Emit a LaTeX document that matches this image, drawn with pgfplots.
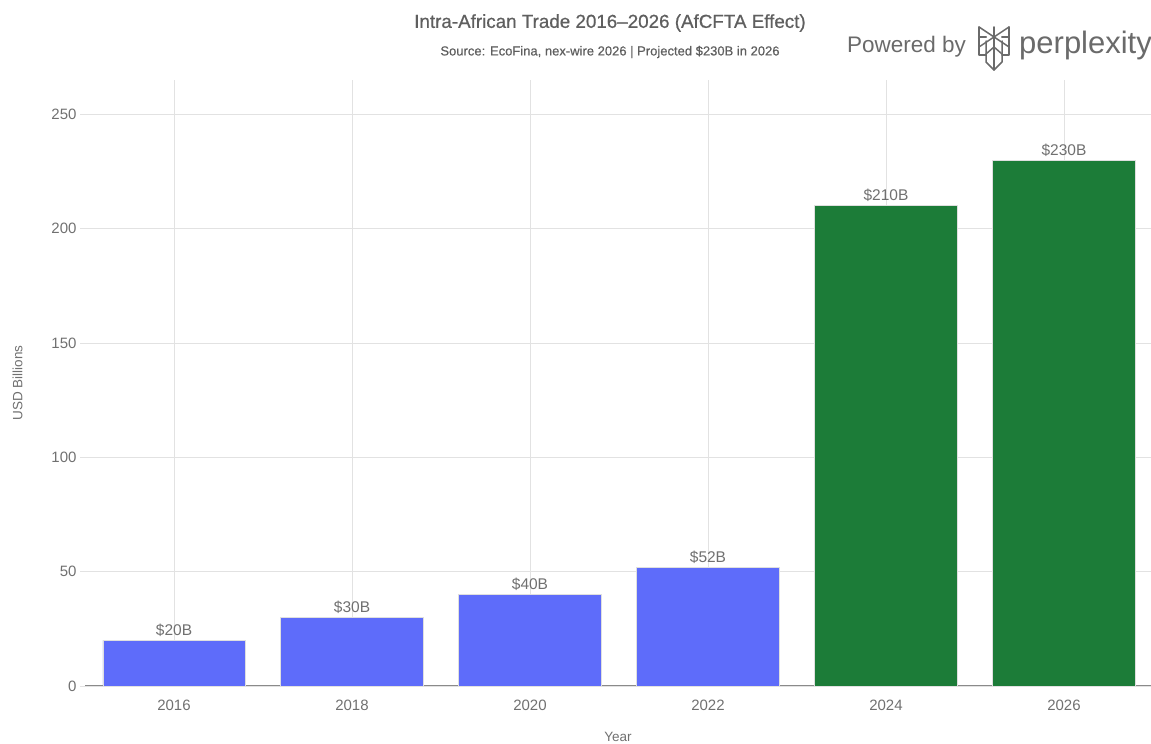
\documentclass[border=0pt]{standalone}
\usepackage{fontspec}
\setmainfont{Liberation Sans}
\newfontfamily\titlefont{Liberation Sans}[FakeBold=0.6,Ligatures=TeX]
\usepackage{pgfplots}
\pgfplotsset{compat=1.18}

\definecolor{barblue}{HTML}{5E6CFA}
\definecolor{bargreen}{HTML}{1C7C38}
\definecolor{txtgray}{HTML}{707070}
\definecolor{titlegray}{HTML}{5F5F5F}
\definecolor{gridgray}{HTML}{E2E2E2}
\definecolor{axisgray}{HTML}{8A8A8A}
\definecolor{logogray}{HTML}{6A6A6A}

\begin{document}
\begin{tikzpicture}
\useasboundingbox (0pt,0pt) rectangle (1151pt,744pt);

% Titles
\node[text=titlegray,font=\titlefont\fontsize{18.8}{21}\selectfont] at (610pt,721pt) {Intra-African Trade 2016\textendash 2026 (AfCFTA Effect)};
\node[text=titlegray,font=\titlefont\fontsize{13}{15}\selectfont] at (610pt,692pt) {Source: EcoFina, nex-wire 2026 | Projected \$230B in 2026};

% Logo
\node[anchor=west,text=logogray,inner sep=0,font=\fontsize{22.5}{24}\selectfont] at (847pt,697pt) {Powered by};
\node[anchor=west,text=logogray,inner sep=0,font=\fontsize{31}{32}\selectfont] at (1019pt,699pt) {perplexity};
\begin{scope}[x=1pt,y=1pt,draw=logogray,line width=1.5pt,line cap=round,line join=round]
  \draw (994,717) -- (994,674);
  \draw (979,717) -- (1009,697);
  \draw (1009,717) -- (979,697);
  \draw (979,717) -- (979,707) -- (986,707);
  \draw (1009,717) -- (1009,707) -- (1002,707);
  \draw (986,707) -- (979,707) -- (979,689) -- (986,689);
  \draw (1002,707) -- (1009,707) -- (1009,689) -- (1002,689);
  \draw (986,703) -- (986,682) -- (994,674) -- (1002,682) -- (1002,703);
  \draw (986,690) -- (994,697) -- (1002,690);
\end{scope}

\begin{axis}[
  at={(174pt,58pt)}, anchor=origin,
  scale only axis, width=1066pt, height=606pt,
  xmin=-0.5, xmax=5.489, ymin=0, ymax=265,
  xtick={0,1,2,3,4,5},
  xticklabels={2016,2018,2020,2022,2024,2026},
  ytick={0,50,100,150,200,250},
  grid=major,
  major grid style={gridgray, line width=0.8pt},
  axis x line*=bottom, axis y line*=left,
  x axis line style={axisgray, line width=1pt, -},
  y axis line style={draw=none},
  xtick style={draw=none},
  ytick style={gridgray, line width=0.8pt},
  tick align=outside, major tick length=5pt,
  tick label style={text=txtgray, font=\fontsize{15}{17}\selectfont},
  xticklabel style={yshift=-5pt},
  /pgf/number format/assume math mode=true,
  xlabel={Year}, ylabel={USD Billions},
  label style={text=txtgray, font=\fontsize{13.5}{15}\selectfont},
  xlabel shift=15pt, ylabel shift=22pt,
  ybar, bar width=0.8, bar shift=0pt,
  nodes near coords={\$\pgfmathprintnumber{\pgfplotspointmeta}B},
  nodes near coords style={text=txtgray, font=\fontsize{15.5}{17}\selectfont, inner sep=3.5pt},
]
\addplot[fill=barblue, draw=white!75!gray, line width=0.6pt] coordinates {(0,20) (1,30) (2,40) (3,52)};
\addplot[fill=bargreen, draw=white!75!gray, line width=0.6pt] coordinates {(4,210) (5,230)};
\end{axis}
\end{tikzpicture}
\end{document}
